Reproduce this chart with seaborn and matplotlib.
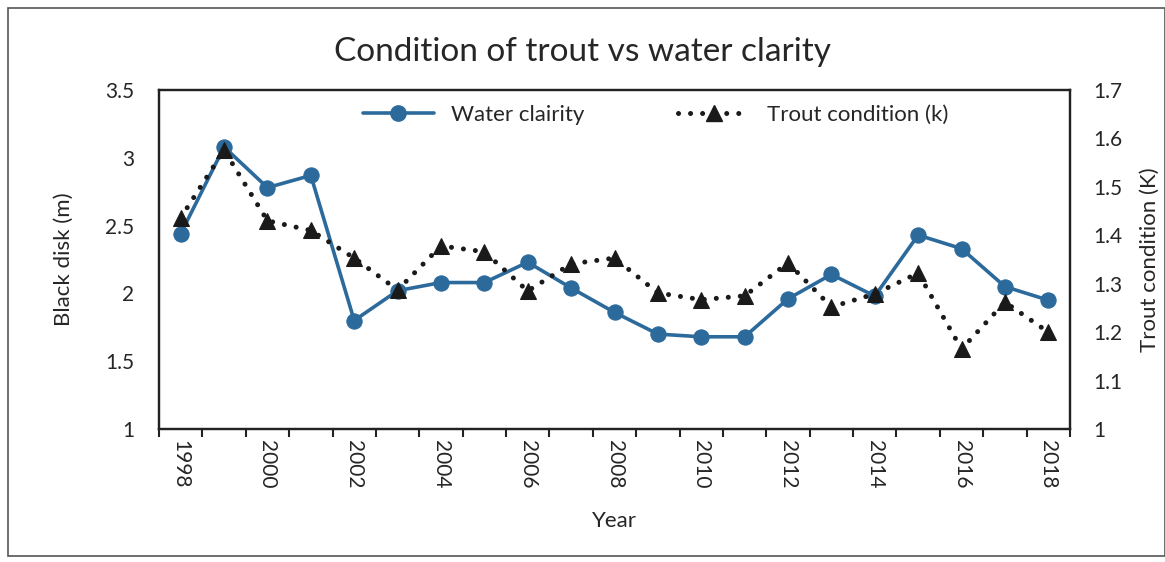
import numpy as np
import pandas as pd
import matplotlib
matplotlib.use("Agg")
import matplotlib.pyplot as plt
import seaborn as sns
from matplotlib.patches import Rectangle
from matplotlib.lines import Line2D

# data
years = list(range(1998, 2019))
water_clarity = [2.44, 3.08, 2.78, 2.87, 1.80, 2.02, 2.08, 2.08, 2.23, 2.04, 1.86,
                 1.70, 1.68, 1.68, 1.96, 2.14, 1.98, 2.43, 2.33, 2.05, 1.95]
trout_condition = [1.436, 1.576, 1.43, 1.41, 1.353, 1.287, 1.378, 1.366, 1.285, 1.341, 1.353,
                   1.281, 1.267, 1.275, 1.343, 1.252, 1.279, 1.322, 1.165, 1.262, 1.20]
left_ticks = [1, 1.5, 2, 2.5, 3, 3.5]
right_ticks = [1, 1.1, 1.2, 1.3, 1.4, 1.5, 1.6, 1.7]

df = pd.DataFrame({"Year": years, "clarity": water_clarity, "trout": trout_condition})

sns.set_theme(style="white")
plt.rcParams["font.family"] = ["Lato", "DejaVu Sans"]
plt.rcParams["text.color"] = "#262626"

blue = "#2c6a9c"
fig = plt.figure(figsize=(11.65, 5.62), dpi=100)
ax = fig.add_axes([159 / 1165, 1 - 429 / 562, (1070 - 159) / 1165, (429 - 90) / 562])
ax2 = ax.twinx()

sns.lineplot(data=df, x="Year", y="clarity", ax=ax, color=blue, linewidth=2.6,
             marker="o", markersize=11, markeredgecolor=blue, zorder=3)
sns.lineplot(data=df, x="Year", y="trout", ax=ax2, color="#1a1a1a", linewidth=3.6,
             linestyle=(0, (0.01, 2.4)), dash_capstyle="round",
             marker="^", markersize=11, markeredgecolor="#1a1a1a", zorder=3)

ax.set_xlim(years[0] - 0.5, years[-1] + 0.5)
ax.set_ylim(1, 3.5)
ax2.set_ylim(1, 1.7)
ax.set_yticks(left_ticks)
ax.set_yticklabels([f"{t:g}" for t in left_ticks])
ax2.set_yticks(right_ticks)
ax2.set_yticklabels([f"{t:g}" for t in right_ticks])

ax.set_xticks([y for y in years if y % 2 == 0])
ax.set_xticklabels([str(y) for y in years if y % 2 == 0], rotation=270)
ax.set_xticks(np.arange(years[0] - 0.5, years[-1] + 1), minor=True)
ax.tick_params(axis="x", which="major", length=0, labelsize=15, pad=8)
ax.tick_params(axis="x", which="minor", length=6, width=1.5, color="#222222", direction="out", bottom=True)
ax.tick_params(axis="y", length=0, labelsize=15, pad=18)
ax2.tick_params(axis="y", length=0, labelsize=15, pad=17)

for a in (ax, ax2):
    for s in a.spines.values():
        s.set_color("#222222")
        s.set_linewidth(1.6)

ax.set_xlabel("Year", fontsize=16, labelpad=16)
ax.set_ylabel("Black disk (m)", fontsize=16, labelpad=22)
ax2.set_ylabel("Trout condition (K)", fontsize=16, labelpad=12)
fig.suptitle("Condition of trout vs water clarity", fontsize=24, y=0.935)

handles = [
    Line2D([], [], color=blue, linewidth=2.6, marker="o", markersize=11),
    Line2D([], [], color="#1a1a1a", linewidth=3.6, linestyle=(0, (0.01, 2.4)),
           dash_capstyle="round", marker="^", markersize=11),
]
if ax.get_legend():
    ax.get_legend().remove()
ax2.legend(handles, ["Water clairity", "Trout condition (k)"], loc="upper center",
           bbox_to_anchor=(0.545, 1.015), ncol=2, frameon=False, fontsize=16,
           handlelength=3.2, columnspacing=4.2)

fig.patches.append(Rectangle((8 / 1165, 1 - 556 / 562), 1 - 8 / 1165, 548 / 562,
                             transform=fig.transFigure, fill=False,
                             edgecolor="#555555", linewidth=1.2))

fig.savefig("out.png", dpi=100)
